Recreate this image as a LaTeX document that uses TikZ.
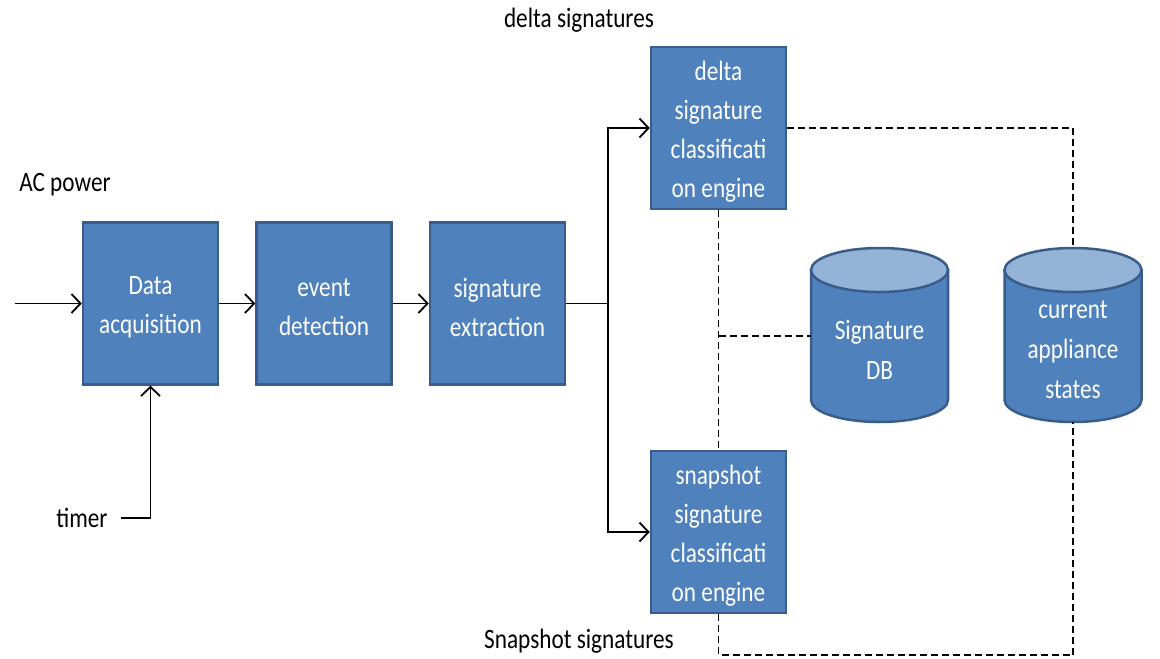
\documentclass[tikz,border=0pt]{standalone}
\usepackage{fontspec}
\setmainfont{Carlito}[FakeStretch=0.83]
\usetikzlibrary{arrows.meta}
\definecolor{boxblue}{HTML}{4F81BD}
\definecolor{boxedge}{HTML}{385D8A}
\definecolor{capblue}{HTML}{95B3D7}

\begin{document}
\begin{tikzpicture}[x=1pt,y=-1pt,
  blocktext/.style={text=white, align=center, inner sep=0pt, yshift=-3.5pt,
    font=\fontsize{28}{39}\selectfont},
  block/.style={draw=boxedge, line width=2.5pt, fill=boxblue,
    minimum width=135pt, minimum height=162pt, inner sep=0pt,
    label={[blocktext]center:#1}},
  cyltext/.style={text=white, align=center, inner sep=0pt,
    font=\fontsize{28}{40}\selectfont},
  flow/.style={line width=1.8pt,
    -{Straight Barb[length=9pt,width=19pt,line width=1.8pt]}},
  wire/.style={line width=1.8pt},
  link/.style={line width=1.8pt, dash pattern=on 7pt off 4pt},
  caption/.style={font=\fontsize{28}{34}\selectfont, inner sep=0pt}]

\useasboundingbox (0,0) rectangle (1160,659);

% processing blocks
\node[block={Data\\acquisition}] (daq) at (150.5,303.5) {};
\node[block={event\\detection}] (evd) at (324,303.5) {};
\node[block={signature\\extraction}] (sigx) at (497.5,303.5) {};
\node[block={delta\\signature\\classificati\\on engine}] (delta) at (718.5,128) {};
\node[block={snapshot\\signature\\classificati\\on engine}] (snap) at (718.5,532) {};

% database cylinders
\foreach \cx in {879.5,1073} {
  \path[fill=boxblue, draw=boxedge, line width=2.5pt]
    (\cx-68.5,270) -- (\cx-68.5,400)
    arc[start angle=180, end angle=0, x radius=68.5, y radius=22]
    -- (\cx+68.5,270) -- cycle;
  \draw[fill=capblue, draw=boxedge, line width=2.5pt]
    (\cx,270) ellipse [x radius=68.5, y radius=22];
}
\node[cyltext] (sigdb)  at (879.5,350) {Signature\\DB};
\node[cyltext] (states) at (1073,350)  {current\\appliance\\states};
\coordinate (db-w)   at (811,336);
\coordinate (st-top) at (1073,248);
\coordinate (st-bot) at (1073,422);

% captions
\node[caption] (acpow)  at (65,185)   {AC power};
\node[caption] (timer)  at (82,518)   {timer};
\node[caption] (dsig)   at (579,20)   {delta signatures};
\node[caption] (ssig)   at (579,641)  {Snapshot signatures};

% signal flow
\coordinate (acin)  at (15,303.5);
\coordinate (split) at (608,303.5);
\draw[flow] (acin) -- (daq);
\draw[flow] ([xshift=13pt]timer.east) -| (daq.south);
\draw[flow] (daq) -- (evd);
\draw[flow] (evd) -- (sigx);
\draw[wire] (sigx.east) -- (split);
\draw[flow] (split) |- (delta.west);
\draw[flow] (split) |- (snap.west);

% data links
\draw[link] (delta.east) -| (st-top);
\draw[link] (delta.south) -- (snap.north);
\draw[link] (delta.south |- db-w) -- (db-w);
\draw[link] (snap.south) -- ++(0,41) -| (st-bot);
\end{tikzpicture}
\end{document}
